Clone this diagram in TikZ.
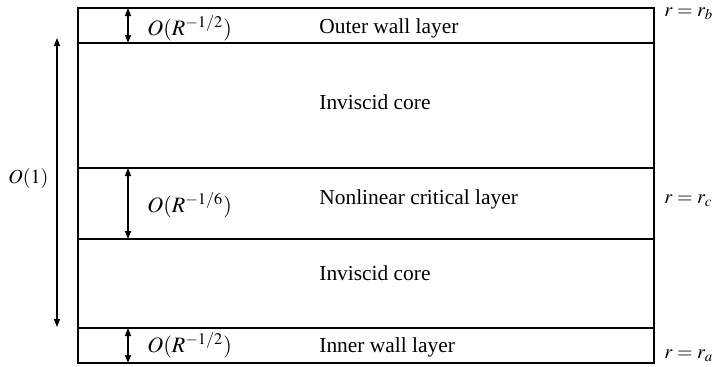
\documentclass[tikz,border=0pt]{standalone}
\usepackage{mathptmx}
\usepackage{fontspec}
\setmainfont{Liberation Serif}
\usetikzlibrary{arrows.meta}
\tikzset{
  frame/.style={line width=0.75pt},
  dim/.style={line width=0.7pt,{Triangle[length=4pt,width=3pt]}-{Triangle[length=4pt,width=3pt]}},
  lbl/.style={inner sep=0pt,anchor=base west,font=\fontsize{10.7pt}{12pt}\selectfont},
  mlbl/.style={inner sep=0pt,anchor=base west,font=\fontsize{11pt}{13pt}\selectfont},
  rlbl/.style={inner sep=0pt,anchor=base west,font=\fontsize{10pt}{12pt}\selectfont},
}
\begin{document}
\begin{tikzpicture}[x=0.5pt,y=-0.5pt]
\useasboundingbox (0,0) rectangle (717,366);
% layer boundaries
\coordinate (tl) at (78,8);
\coordinate (br) at (654,363);
\coordinate (l1) at (78,43);  \coordinate (r1) at (654,43);
\coordinate (l2) at (78,168); \coordinate (r2) at (654,168);
\coordinate (l3) at (78,239); \coordinate (r3) at (654,239);
\coordinate (l4) at (78,328); \coordinate (r4) at (654,328);
\draw[frame] (tl) rectangle (br);
\draw[frame] (l1) -- (r1);
\draw[frame] (l2) -- (r2);
\draw[frame] (l3) -- (r3);
\draw[frame] (l4) -- (r4);
% dimension arrow end points
\coordinate (a1) at (128,8);   \coordinate (b1) at (128,43);
\coordinate (a2) at (128,168); \coordinate (b2) at (128,239);
\coordinate (a3) at (128,328); \coordinate (b3) at (128,363);
\coordinate (a0) at (57,38);   \coordinate (b0) at (57,327);
\draw[dim] (a1) -- (b1);
\draw[dim] (a2) -- (b2);
\draw[dim] (a3) -- (b3);
\draw[dim] (a0) -- (b0);
% left labels
\node[mlbl] (s1) at (147,35) {$O(R^{-1/2})$};
\node[mlbl] (s2) at (147,212) {$O(R^{-1/6})$};
\node[mlbl] (s3) at (147,352) {$O(R^{-1/2})$};
\node[rlbl] (s0) at (8,183) {$O(1)$};
% layer names
\node[lbl] (n1) at (319,33) {Outer wall layer};
\node[lbl] (n2) at (319,109) {Inviscid core};
\node[lbl] (n3) at (319,204) {Nonlinear critical layer};
\node[lbl] (n4) at (319,280) {Inviscid core};
\node[lbl] (n5) at (319,352) {Inner wall layer};
% radii
\node[rlbl] (rb) at (664,16) {$r=r_b$};
\node[rlbl] (rc) at (664,203) {$r=r_c$};
\node[rlbl] (ra) at (664,358) {$r=r_a$};
\end{tikzpicture}
\end{document}
